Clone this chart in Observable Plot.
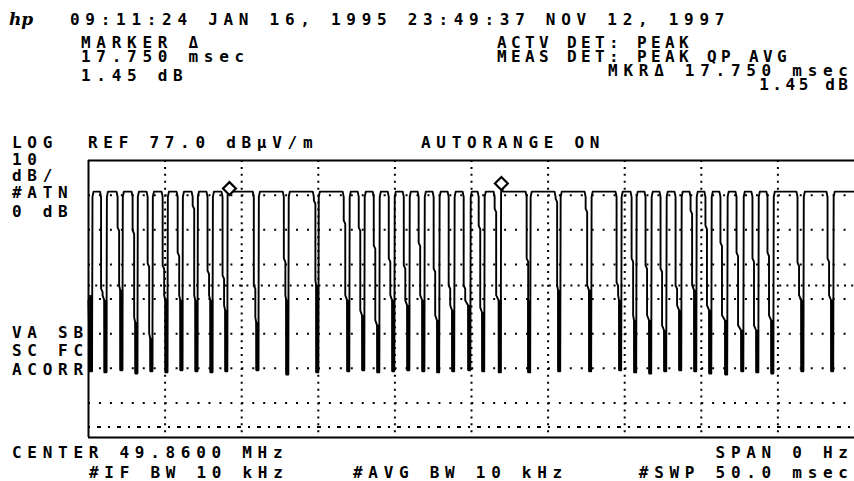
<!DOCTYPE html>
<html><head><meta charset="utf-8">
<script src="https://cdn.jsdelivr.net/npm/d3@7"></script>
<script src="https://cdn.jsdelivr.net/npm/@observablehq/plot@0.6"></script>
<style>html,body{margin:0;padding:0;background:#fff;} #chart{width:854px;height:481px;overflow:hidden}</style>
</head><body><div id="chart"></div>
<script>
// ---- scale (dB) and sweep (ms) ----
const refLevel = 77;            // REF 77.0 dBuV/m, top graticule line
const bottomLevel = -3;         // 8 div x 10 dB below ref
const sweepSpan = [0, 50];      // 50.0 msec sweep
const gridTimes = [5, 10, 15, 20, 25, 30, 35, 40, 45];
const gridLevels = [67, 57, 47, 37, 27, 17, 7];
const displayLines = [40.9];
const limitLines = [0];

// ---- trace: pulse train ----
const topLevel = 68.0;
const startLevel = 36.6;
const barTimes = [0.20, 1.14, 2.18, 3.16, 4.14, 5.12, 6.10, 7.08, 8.06, 9.03,
  11.06, 13.01, 14.97, 16.99, 17.97, 18.95, 19.93, 20.91, 21.89, 22.86,
  23.84, 24.89, 25.80, 26.88, 28.80, 30.76, 32.78, 34.74, 35.72, 36.70,
  37.68, 38.66, 39.64, 40.62, 41.66, 42.71, 43.69, 44.67, 46.63, 48.58];
const fallTimes = [null, 0.82, 1.90, 2.88, 3.86, 4.84, 5.82, 6.80, 7.77, 8.75,
  10.79, 12.75, 14.71, 16.66, 17.64, 18.62, 19.60, 20.58, 21.55, 22.53,
  23.51, 24.49, 25.47, 26.51, 28.60, 30.49, 32.45, 34.47, 35.45, 36.36,
  37.34, 38.32, 39.30, 40.27, 41.25, 42.30, 43.34, 44.32, 46.28, 48.24];
const step1Levels = [null, 40.0, 57.7, 56.8, 47.3, 46.7, 50.4, 64.0, 45.2, 43.8,
  40.9, 48.7, 65.5, 59.7, 57.7, 52.5, 48.7, 46.7, 53.3, 45.8,
  40.9, 40.9, 58.2, 63.1, 48.7, 66.0, 63.1, 41.8, 48.7, 46.7,
  45.8, 40.9, 62.6, 58.2, 53.3, 50.4, 48.7, 50.4, 47.5, 48.7];
const step2Levels = [38.0, 36.6, 39.5, 30.2, 25.6, 36.6, 36.6, 36.6, 36.6, 33.7,
  30.2, 36.6, 40.9, 36.6, 32.2, 29.4, 36.6, 35.1, 36.6, 30.8,
  33.7, 35.1, 33.1, 36.6, 36.6, 39.5, 39.5, 36.6, 30.8, 30.8,
  27.9, 33.7, 39.5, 33.7, 30.8, 27.9, 27.9, 30.8, 36.6, 36.6];
const bottomLevels = [16.1, 15.8, 16.4, 15.5, 16.1, 15.8, 16.4, 16.1, 15.8, 16.1,
  16.4, 15.2, 15.8, 16.1, 16.4, 15.8, 16.1, 16.4, 16.1, 15.8,
  16.1, 16.4, 16.1, 15.8, 15.8, 16.1, 16.1, 16.4, 15.8, 15.5,
  16.1, 16.4, 16.1, 15.5, 15.2, 16.1, 15.8, 15.5, 16.1, 16.1];

// ---- markers ----
const markerTimes = [9.20, 26.95];
const markerLevels = [68.9, 70.35];

// ---- annotation text ----
const timestampLine = "09:11:24 JAN 16, 1995 23:49:37 NOV 12, 1997";
const markerInfoLeft = ["MARKER \u0394", "17.750 msec", "1.45 dB"];
const detectorInfo = ["ACTV DET: PEAK", "MEAS DET: PEAK QP AVG"];
const markerInfoRight = ["MKR\u0394 17.750 msec", "1.45 dB"];
const scaleInfo = ["LOG", "10", "dB/", "#ATN", "0 dB"];
const refText = "REF 77.0 dB\u03BCV/m";
const autorangeText = "AUTORANGE ON";
const modeInfo = ["VA SB", "SC FC", "ACORR"];
const footerLeft = ["CENTER 49.8600 MHz", "#IF BW 10 kHz"];
const footerMid = "#AVG BW 10 kHz";
const footerRight = ["SPAN 0 Hz", "#SWP 50.0 msec"];

// ---- build trace vertices from the read parameters ----
const trace = [{t: 0, v: startLevel}];
barTimes.forEach((b, i) => {
  const f = fallTimes[i];
  if (f != null) {
    trace.push({t: f - 0.07, v: topLevel});
    trace.push({t: f, v: topLevel - 1.5});
    trace.push({t: f, v: step1Levels[i]});
    trace.push({t: f + 0.1, v: step1Levels[i] - 1});
    trace.push({t: f + 0.1, v: step2Levels[i] + 1.5});
    trace.push({t: b - 0.11, v: step2Levels[i]});
  }
  trace.push({t: b - 0.1, v: bottomLevels[i]});
  trace.push({t: b + 0.03, v: bottomLevels[i]});
  const m = markerTimes.findIndex(mt => mt > b && mt - b < 0.3);
  if (m >= 0) {
    trace.push({t: b + 0.05, v: topLevel - 1});
    trace.push({t: markerTimes[m], v: markerLevels[m]});
    trace.push({t: markerTimes[m] + 0.1, v: topLevel});
  } else {
    trace.push({t: b + 0.06, v: topLevel - 1.5});
    trace.push({t: b + 0.13, v: topLevel});
  }
});
trace.push({t: sweepSpan[1], v: topLevel});
const markers = markerTimes.map((t, i) => ({t, v: markerLevels[i]}));
const bars = barTimes.map((t, i) => ({t: t - 0.035, lo: bottomLevels[i], hi: step2Levels[i]}));

const ink = "#000";
const plot = Plot.plot({
  width: 854, height: 481,
  marginLeft: 88, marginRight: 0, marginTop: 160, marginBottom: 44,
  x: {domain: sweepSpan, axis: null},
  y: {domain: [bottomLevel, refLevel], axis: null},
  style: {background: "#fff"},
  marks: [
    Plot.ruleX(gridTimes, {stroke: ink, strokeWidth: 2, strokeDasharray: "2 4.93"}),
    Plot.ruleY(gridLevels, {stroke: ink, strokeWidth: 2, strokeDasharray: "2 8.95"}),
    Plot.ruleY(displayLines, {stroke: ink, strokeWidth: 2, strokeDasharray: "2 5.2"}),
    Plot.ruleY(limitLines, {stroke: ink, strokeWidth: 2, strokeDasharray: "2 7 4 7"}),
    Plot.ruleX(bars, {x: "t", y1: "lo", y2: "hi", stroke: ink, strokeWidth: 3.6}),
    Plot.line(trace, {x: "t", y: "v", stroke: ink, strokeWidth: 1.9, curve: "linear"}),
    Plot.dot(markers, {x: "t", y: "v", symbol: "diamond2", r: 5.8, stroke: ink, strokeWidth: 2.2, fill: "#fff"}),
    Plot.ruleX([sweepSpan[0]], {stroke: ink, strokeWidth: 2}),
    Plot.ruleY([refLevel], {stroke: ink, strokeWidth: 2}),
    Plot.ruleY([bottomLevel], {stroke: ink, strokeWidth: 2})
  ]
});
document.getElementById("chart").appendChild(plot);

// ---- screen annotations ----
const fs = 16, glyph = 0.602 * fs;
const svg = d3.select(plot);
const g = svg.append("g")
  .attr("text-anchor", "start")
  .attr("font-family", "DejaVu Sans Mono, monospace")
  .attr("font-weight", "bold")
  .attr("font-size", fs)
  .attr("fill", ink);
function put(str, x, y, pitch = 15.35) {
  g.append("text").attr("x", x).attr("y", y).attr("letter-spacing", pitch - glyph).text(str);
}
function putRight(str, xr, y, pitch = 15.35) { put(str, xr - ((str.length - 1) * pitch + glyph), y, pitch); }

svg.append("text").attr("x", 9).attr("y", 25).attr("text-anchor", "start")
  .attr("font-family", "DejaVu Serif").attr("font-style", "italic").attr("font-weight", "bold")
  .attr("font-size", 17).attr("fill", ink).text("hp");

const rightEdge = 848;
put(timestampLine, 70, 25);
[48, 62, 81].forEach((y, i) => put(markerInfoLeft[i], 81, y));
[48, 62].forEach((y, i) => put(detectorInfo[i], 497, y, 14.0));
putRight(markerInfoRight[0], rightEdge, 76);
putRight(markerInfoRight[1], rightEdge, 90, 13.2);
[148, 165, 181, 198, 217].forEach((y, i) => put(scaleInfo[i], 12, y));
put(refText, 88, 148);
put(autorangeText, 421, 148);
[338, 356, 375].forEach((y, i) => put(modeInfo[i], 12, y));
put(footerLeft[0], 12, 458);
put(footerLeft[1], 89, 478);
put(footerMid, 353, 478);
putRight(footerRight[0], rightEdge, 458);
putRight(footerRight[1], rightEdge, 478);
</script>
</body></html>
